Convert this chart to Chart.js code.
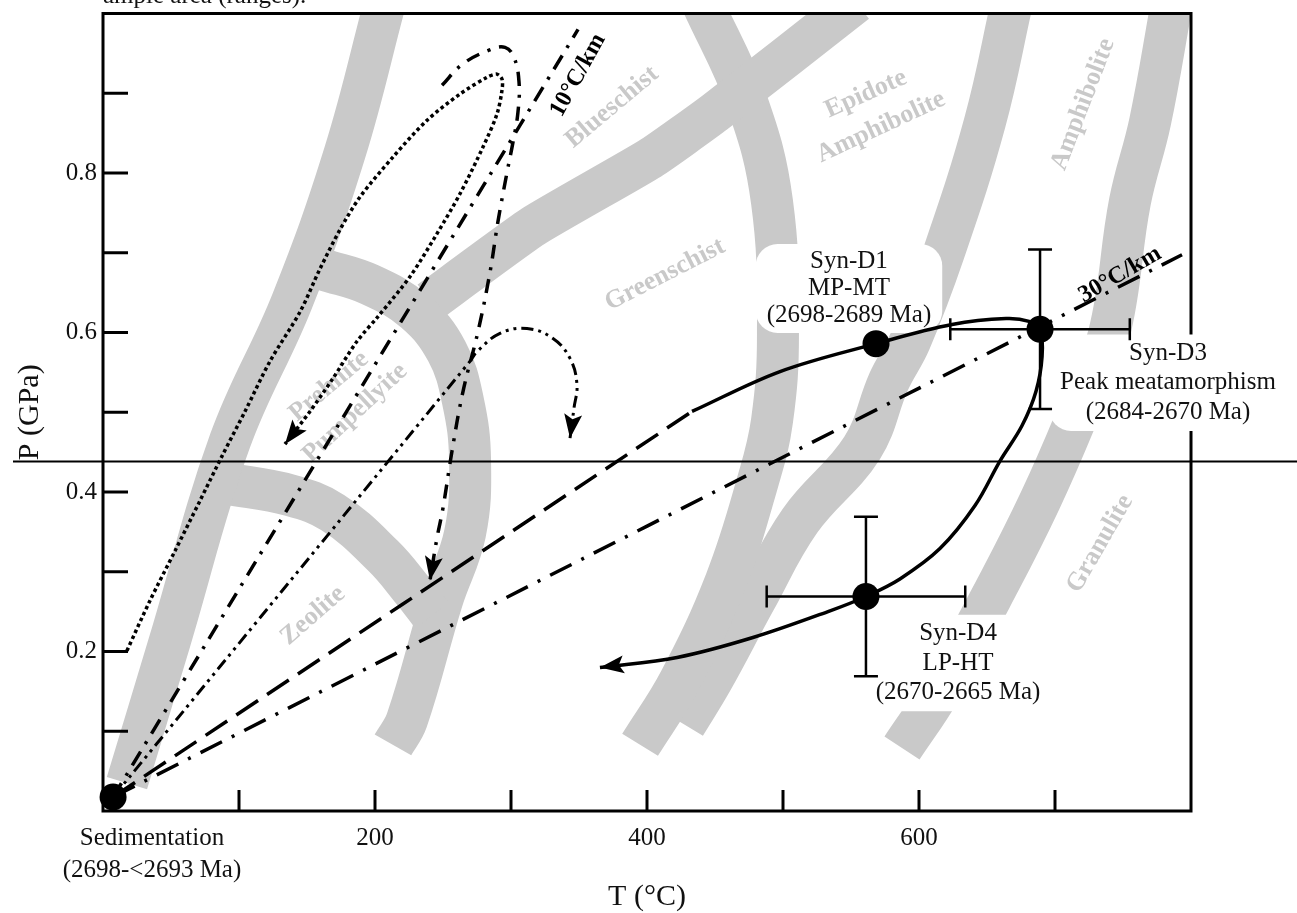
<!DOCTYPE html>
<html><head><meta charset="utf-8">
<script src="https://cdn.jsdelivr.net/npm/chart.js@4.4.1/dist/chart.umd.min.js"></script>
<style>html,body{margin:0;padding:0;background:#fff;}canvas{display:block;}</style>
</head><body>
<canvas id="c" width="1297" height="913"></canvas>
<script>
// ===== DATA (T in °C, P in GPa) =====
// Facies boundary bands (grey)
const band1T = [17.6, 49.3, 93.4, 139.0, 177.9, 207.4];
const band1P = [0.035, 0.214, 0.464, 0.639, 0.826, 1.014];
const band2T = [89.7, 137.5, 169.1, 205.9, 227.9, 241.9];
const band2P = [0.411, 0.396, 0.374, 0.320, 0.276, 0.245];
const band3T = [161.8, 196.3, 229.4, 252.9, 264.7, 269.9, 266.2, 249.3, 223.5, 213.2];
const band3P = [0.679, 0.660, 0.626, 0.576, 0.514, 0.439, 0.348, 0.264, 0.114, 0.083];
const band4T = [240.4, 316.2, 402.2, 450.0, 553.7];
const band4P = [0.639, 0.733, 0.818, 0.876, 1.014];
const band5T = [440.4, 473.5, 491.9, 496.3, 491.9, 481.6, 458.1, 424.3, 394.9];
const band5P = [1.014, 0.889, 0.764, 0.598, 0.489, 0.414, 0.289, 0.164, 0.083];
const band6T = [668.4, 648.5, 618.4, 593.4, 577.9, 558.1, 512.5, 479.4, 447.8, 427.9];
const band6P = [1.014, 0.864, 0.701, 0.589, 0.539, 0.455, 0.364, 0.264, 0.164, 0.108];
const band7T = [786.0, 769.9, 755.1, 739.7, 714.7, 689.0, 659.6, 615.4, 587.5];
const band7P = [1.014, 0.864, 0.764, 0.598, 0.489, 0.389, 0.289, 0.151, 0.079];

// Geotherms and paths
const geo10T = [7.4, 349.3];
const geo10P = [0.0175, 0.980];
const geo30T = [7.4, 793.4];
const geo30P = [0.0175, 0.6975];
const longDashT = [7.4, 433.1];
const longDashP = [0.0175, 0.501];
const ddotT = [7.4, 269.9, 275.0, 291.9, 311.8, 330.9, 343.4, 348.5, 346.3, 343.4];
const ddotP = [0.0175, 0.564, 0.576, 0.599, 0.605, 0.5925, 0.5675, 0.535, 0.505, 0.4675];
const dottedT = [17.6, 34.6, 52.9, 71.3, 87.5, 104.4, 122.8, 144.9, 159.6, 174.3, 189.0, 213.2, 238.2, 262.5, 282.4, 289.7, 293.4,
                 293.4, 289.7, 279.4, 262.5, 245.6, 225.7, 202.2, 186.8, 169.1, 152.2, 133.8];
const dottedP = [0.201, 0.264, 0.326, 0.389, 0.445, 0.501, 0.564, 0.626, 0.680, 0.729, 0.770, 0.820, 0.866, 0.899, 0.920, 0.924, 0.9175,
                 0.904, 0.874, 0.8325, 0.774, 0.724, 0.670, 0.620, 0.589, 0.5425, 0.501, 0.460];
const hookT = [249.3, 264.0, 283.8, 295.6, 302.2, 305.9, 305.1, 301.5, 297.1, 290.4, 284.6, 275.7, 264.7, 256.6, 250.0, 245.6, 240.4];
const hookP = [0.910, 0.936, 0.954, 0.9575, 0.945, 0.914, 0.876, 0.839, 0.801, 0.739, 0.676, 0.601, 0.526, 0.451, 0.380, 0.3425, 0.289];
const pathT = [433.1, 497.8, 568.4, 624.3, 664.0, 680.9, 689.0, 690.5, 686.0, 675.7, 659.6, 641.2, 615.4, 586.0, 561.0, 534.6, 477.9, 422.1, 365.4];
const pathP = [0.501, 0.551, 0.586, 0.610, 0.6175, 0.614, 0.604, 0.570, 0.526, 0.483, 0.439, 0.383, 0.329, 0.291, 0.269, 0.251, 0.2175, 0.1925, 0.180];

// Dated stages (points) and their error bars
const stageT = [7.4, 568.4, 689.0, 561.0];
const stageP = [0.0175, 0.586, 0.604, 0.269];
const errT   = [689.0, 561.0];
const errP   = [0.604, 0.269];
const errDT  = [66, 73];
const errDP  = [0.10, 0.10];

// Axis tick labels
const xTickLabels = ['200', '400', '600'];
const yTickLabels = ['0.2', '0.4', '0.6', '0.8'];
const hLineP = 0.439;

// ===== LABELS =====
const faciesLabels = [
  {t:'Blueschist', T:374.3, P:0.8825, rot:-40},
  {t:'Greenschist', T:413.2, P:0.6725, rot:-27},
  {t:'Epidote', T:561.0, P:0.899, rot:-24},
  {t:'Amphibolite', T:572.1, P:0.8575, rot:-25},
  {t:'Amphibolite', T:720.6, P:0.886, rot:-69},
  {t:'Granulite', T:733.1, P:0.335, rot:-60},
  {t:'Prehnite', T:166.2, P:0.5325, rot:-40},
  {t:'Pumpellyite', T:185.3, P:0.499, rot:-43},
  {t:'Zeolite', T:154.4, P:0.245, rot:-41}
];
const geoLabels = [
  {t:'10°C/km', T:349.3, P:0.9225, rot:-61},
  {t:'30°C/km', T:747.8, P:0.6725, rot:-30}
];
const stageLabels = [
  {lines:['Syn-D1','MP-MT','(2698-2689 Ma)'], T:548.5, P:0.689, lh:27, box:true},
  {lines:['Syn-D3','Peak meatamorphism','(2684-2670 Ma)'], T:783.1, P:0.574, lh:29.5, box:true},
  {lines:['Syn-D4','LP-HT','(2670-2665 Ma)'], T:628.7, P:0.2225, lh:29.5, box:true},
  {lines:['Sedimentation','(2698-<2693 Ma)'], T:36.0, P:-0.034, lh:32, box:false}
];
const captionFragment = 'ample area (ranges).';

// ===== CHART =====
const pts = (T, P) => T.map((t, i) => ({x: t, y: P[i]}));
const GRAY = '#c9c9c9';
const SERIF = "'Liberation Serif', 'DejaVu Serif', serif";
Chart.defaults.font.family = SERIF;

const datasets = [];
[[band1T,band1P,0.4],[band2T,band2P,0.4],[band3T,band3P,0.4],[band4T,band4P,0.15],[band5T,band5P,0.4],[band6T,band6P,0.4],[band7T,band7P,0.4]]
  .forEach(([T, P, k]) => datasets.push({
    data: pts(T, P), showLine: true, band: true, borderColor: GRAY, borderWidth: 42,
    pointRadius: 0, tension: k, order: 10, borderCapStyle: 'butt', borderJoinStyle: 'round'
  }));
const NBANDS = datasets.length;
function blackLine(T, P, dash, extra) {
  return Object.assign({
    data: pts(T, P), showLine: true, borderColor: '#000', borderWidth: 3.5, borderDash: dash,
    pointRadius: 0, tension: 0.4, order: 0, borderCapStyle: 'butt'
  }, extra || {});
}
datasets.push(blackLine(geo10T, geo10P, [16, 9, 3, 9]));
datasets.push(blackLine(geo30T, geo30P, [24, 11, 3, 11]));
datasets.push(blackLine(longDashT, longDashP, [26, 11]));
datasets.push(blackLine(ddotT, ddotP, [12, 5, 3, 5, 3, 5], {borderWidth: 3, arrow: true}));
datasets.push(blackLine(dottedT, dottedP, [3.5, 3], {borderWidth: 3.5, arrow: true, tension: 0.3}));
datasets.push(blackLine(hookT, hookP, [14, 9, 3, 9], {arrow: true}));
datasets.push(blackLine(pathT, pathP, [], {borderWidth: 3.5, arrow: true, tension: 0.35}));
datasets.push({
  data: pts(stageT, stageP), showLine: false, pointRadius: 13.5, pointHoverRadius: 13.5,
  pointBackgroundColor: '#000', pointBorderWidth: 0, order: 0, clip: false
});

function drawFrameAndBoxes(chart) {
  const ctx = chart.ctx, a = chart.chartArea, xs = chart.scales.x, ys = chart.scales.y;
  ctx.save();
  ctx.strokeStyle = '#000'; ctx.lineWidth = 3;
  ctx.strokeRect(a.left, a.top, a.right - a.left, a.bottom - a.top);
  xs.ticks.forEach(tk => {
    if (tk.value <= xs.min || tk.value >= xs.max) return;
    const px = xs.getPixelForValue(tk.value);
    ctx.beginPath(); ctx.moveTo(px, a.bottom); ctx.lineTo(px, a.bottom - 21); ctx.stroke();
  });
  ys.ticks.forEach(tk => {
    if (tk.value <= ys.min + 1e-9 || tk.value >= ys.max - 1e-9) return;
    const py = ys.getPixelForValue(tk.value);
    ctx.beginPath(); ctx.moveTo(a.left, py); ctx.lineTo(a.left + 25, py); ctx.stroke();
  });
  // white label backgrounds
  ctx.font = '25px ' + SERIF;
  stageLabels.forEach(L => {
    if (!L.box) return;
    const cx = xs.getPixelForValue(L.T), cy = ys.getPixelForValue(L.P);
    const w = Math.max(...L.lines.map(s => ctx.measureText(s).width)) + 22;
    const h = L.lines.length * L.lh + 8;
    const x0 = cx - w / 2, y0 = cy - L.lh / 2 - 4;
    ctx.fillStyle = '#fff';
    ctx.beginPath();
    if (ctx.roundRect) ctx.roundRect(x0, y0, w, h, 22); else ctx.rect(x0, y0, w, h);
    ctx.fill();
  });
  // grey facies names
  ctx.fillStyle = GRAY; ctx.font = 'bold 26px ' + SERIF;
  ctx.textAlign = 'center'; ctx.textBaseline = 'middle';
  faciesLabels.forEach(L => {
    ctx.save();
    ctx.translate(xs.getPixelForValue(L.T), ys.getPixelForValue(L.P));
    ctx.rotate(L.rot * Math.PI / 180);
    ctx.fillText(L.t, 0, 0);
    ctx.restore();
  });
  ctx.restore();
}

const overlay = {
  id: 'overlay',
  beforeDatasetsDraw(chart) { chart.$bandCount = 0; },
  afterDatasetDraw(chart, args) {
    const ds = chart.data.datasets[args.index];
    if (!ds.band) return;
    chart.$bandCount++;
    if (chart.$bandCount === NBANDS) drawFrameAndBoxes(chart);
  },
  afterDatasetsDraw(chart) {
    const ctx = chart.ctx, xs = chart.scales.x, ys = chart.scales.y;
    ctx.save();
    // error bars
    ctx.strokeStyle = '#000'; ctx.lineWidth = 2.5;
    errT.forEach((t, i) => {
      const p = errP[i];
      const xl = xs.getPixelForValue(t - errDT[i]), xr = xs.getPixelForValue(t + errDT[i]);
      const yb = ys.getPixelForValue(p - errDP[i]), yt = ys.getPixelForValue(p + errDP[i]);
      const xc = xs.getPixelForValue(t), yc = ys.getPixelForValue(p);
      ctx.beginPath();
      ctx.moveTo(xl, yc); ctx.lineTo(xr, yc);
      ctx.moveTo(xc, yt); ctx.lineTo(xc, yb);
      ctx.moveTo(xl, yc - 11); ctx.lineTo(xl, yc + 11);
      ctx.moveTo(xr, yc - 11); ctx.lineTo(xr, yc + 11);
      ctx.moveTo(xc - 12, yt); ctx.lineTo(xc + 12, yt);
      ctx.moveTo(xc - 12, yb); ctx.lineTo(xc + 12, yb);
      ctx.stroke();
    });
    // arrowheads
    ctx.fillStyle = '#000';
    chart.data.datasets.forEach(ds => {
      if (!ds.arrow) return;
      const d = ds.data, n = d.length;
      const x1 = xs.getPixelForValue(d[n - 2].x), y1 = ys.getPixelForValue(d[n - 2].y);
      const x2 = xs.getPixelForValue(d[n - 1].x), y2 = ys.getPixelForValue(d[n - 1].y);
      const ang = Math.atan2(y2 - y1, x2 - x1);
      ctx.save(); ctx.translate(x2, y2); ctx.rotate(ang);
      ctx.beginPath(); ctx.moveTo(0, 0); ctx.lineTo(-24, -9); ctx.lineTo(-19, 0); ctx.lineTo(-24, 9); ctx.closePath(); ctx.fill();
      ctx.restore();
    });
    // geotherm labels
    ctx.fillStyle = '#000'; ctx.font = 'bold 24px ' + SERIF;
    ctx.textAlign = 'center'; ctx.textBaseline = 'middle';
    geoLabels.forEach(L => {
      ctx.save();
      ctx.translate(xs.getPixelForValue(L.T), ys.getPixelForValue(L.P));
      ctx.rotate(L.rot * Math.PI / 180);
      ctx.fillText(L.t, 0, 0);
      ctx.restore();
    });
    // stage labels
    ctx.font = '25px ' + SERIF; ctx.fillStyle = '#111';
    stageLabels.forEach(L => {
      const cx = xs.getPixelForValue(L.T), cy = ys.getPixelForValue(L.P);
      L.lines.forEach((s, i) => ctx.fillText(s, cx, cy + i * L.lh));
    });
    ctx.restore();
  },
  afterDraw(chart) {
    const ctx = chart.ctx, ys = chart.scales.y, a = chart.chartArea;
    const y = Math.round(ys.getPixelForValue(hLineP)) + 0.5;
    ctx.save(); ctx.strokeStyle = '#000'; ctx.lineWidth = 2;
    ctx.beginPath(); ctx.moveTo(13, y); ctx.lineTo(chart.width, y); ctx.stroke();
    // cropped caption line above the frame
    ctx.fillStyle = '#111'; ctx.font = '25px ' + SERIF;
    ctx.textAlign = 'left'; ctx.textBaseline = 'alphabetic';
    ctx.fillText(captionFragment, a.left, 3);
    ctx.restore();
  }
};

new Chart(document.getElementById('c'), {
  type: 'scatter',
  data: {datasets},
  options: {
    responsive: false, animation: false, devicePixelRatio: 1,
    layout: {padding: {left: 0, top: 11, right: 106, bottom: 0}},
    plugins: {legend: {display: false}, tooltip: {enabled: false}},
    elements: {line: {capBezierPoints: false}},
    scales: {
      x: {
        type: 'linear', min: 0, max: 800, position: 'bottom',
        grid: {display: false, drawTicks: false}, border: {display: false},
        ticks: {stepSize: 100, autoSkip: false, maxRotation: 0, padding: 12, color: '#111',
                font: {size: 25, family: SERIF},
                callback: v => xTickLabels.includes(String(v)) ? String(v) : ''},
        title: {display: true, text: 'T (°C)', color: '#111', font: {size: 30, family: SERIF, lineHeight: 1}, padding: {top: 0, bottom: 1}},
        afterFit: s => { s.height = 102; s.paddingLeft = 0; s.paddingRight = 0; }
      },
      y: {
        type: 'linear', min: 0, max: 1.0, position: 'left',
        grid: {display: false, drawTicks: false}, border: {display: false},
        ticks: {stepSize: 0.1, autoSkip: false, padding: 6, color: '#111',
                font: {size: 25, family: SERIF},
                callback: v => yTickLabels.includes(Number(v).toFixed(1)) ? Number(v).toFixed(1) : ''},
        title: {display: true, text: 'P (GPa)', color: '#111', font: {size: 30, family: SERIF}, padding: {top: 12, bottom: 0}},
        afterFit: s => { s.width = 103; s.paddingTop = 0; s.paddingBottom = 0; }
      }
    }
  },
  plugins: [overlay]
});
</script>
</body></html>
